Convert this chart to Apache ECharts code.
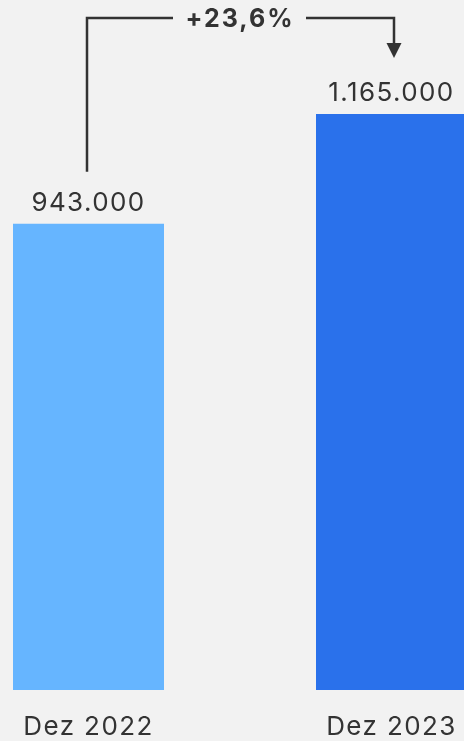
<!DOCTYPE html>
<html>
<head>
<meta charset="utf-8">
<script src="https://cdn.jsdelivr.net/npm/echarts@6/dist/echarts.min.js"></script>
<style>
html,body{margin:0;padding:0;background:#f2f2f2;}
#c{width:464px;height:741px;}
</style>
</head>
<body>
<div id="c"></div>
<script>
var categories = ['Dez 2022', 'Dez 2023'];
var values = [943000, 1165000];
var valueLabels = ['943.000', '1.165.000'];
var barColors = ['#66b5ff', '#2a71eb'];
var changeLabel = '+23,6%';

// letter spacing for canvas text (reference text is slightly tracked)
(function () {
  var proto = CanvasRenderingContext2D.prototype;
  var orig = proto.fillText;
  proto.fillText = function (t, x, y, m) {
    if ('letterSpacing' in this) {
      this.letterSpacing = /bold|700/.test(this.font) ? '2px' : '1.4px';
    }
    return m === undefined ? orig.call(this, t, x, y) : orig.call(this, t, x, y, m);
  };
})();

var chart = echarts.init(document.getElementById('c'), null, {renderer: 'canvas'});
var FONT = 'Inter, "Noto Sans", sans-serif';
var option = {
  backgroundColor: '#f2f2f2',
  animation: false,
  grid: {left: -63, width: 606, top: 114, bottom: 51, containLabel: false, outerBoundsMode: 'none'},
  xAxis: {
    type: 'category',
    data: categories,
    axisLine: {show: false},
    axisTick: {show: false},
    axisLabel: {color: '#333', fontSize: 26, fontFamily: FONT, margin: 24}
  },
  yAxis: {type: 'value', min: 0, max: values[1], show: false, splitLine: {show: false}},
  series: [{
    type: 'bar',
    barWidth: 151,
    data: values.map(function (v, i) { return {value: v, itemStyle: {color: barColors[i]}}; }),
    label: {
      show: true,
      position: 'top',
      distance: 8,
      color: '#333',
      fontSize: 26,
      fontFamily: FONT,
      formatter: function (p) { return valueLabels[p.dataIndex]; }
    }
  }]
};
chart.setOption(option);

function drawBracket() {
  var p0 = chart.convertToPixel({seriesIndex: 0}, [0, values[0]]);
  var p1 = chart.convertToPixel({seriesIndex: 0}, [1, values[1]]);
  var x0 = p0[0] - 1.5, x1 = p1[0] + 2.5;
  var yTop = 18;
  var yLeftBottom = p0[1] - 52;
  var yArrowTip = p1[1] - 56;
  var midX = (p0[0] + p1[0]) / 2;
  var lineStyle = {stroke: '#333', lineWidth: 2.5, fill: null};
  chart.setOption({
    graphic: [
      {type: 'polyline', shape: {points: [[x0, yLeftBottom], [x0, yTop], [173, yTop]]}, style: lineStyle, silent: true},
      {type: 'polyline', shape: {points: [[306, yTop], [x1, yTop], [x1, yArrowTip - 12]]}, style: lineStyle, silent: true},
      {type: 'polygon', shape: {points: [[x1 - 7.5, yArrowTip - 15], [x1 + 7.5, yArrowTip - 15], [x1, yArrowTip]]}, style: {fill: '#333'}, silent: true},
      {type: 'text', x: midX, y: yTop + 1, style: {text: changeLabel, fill: '#333', font: 'bold 25px ' + FONT, align: 'center', verticalAlign: 'middle'}, silent: true}
    ]
  });
}
drawBracket();
</script>
</body>
</html>
